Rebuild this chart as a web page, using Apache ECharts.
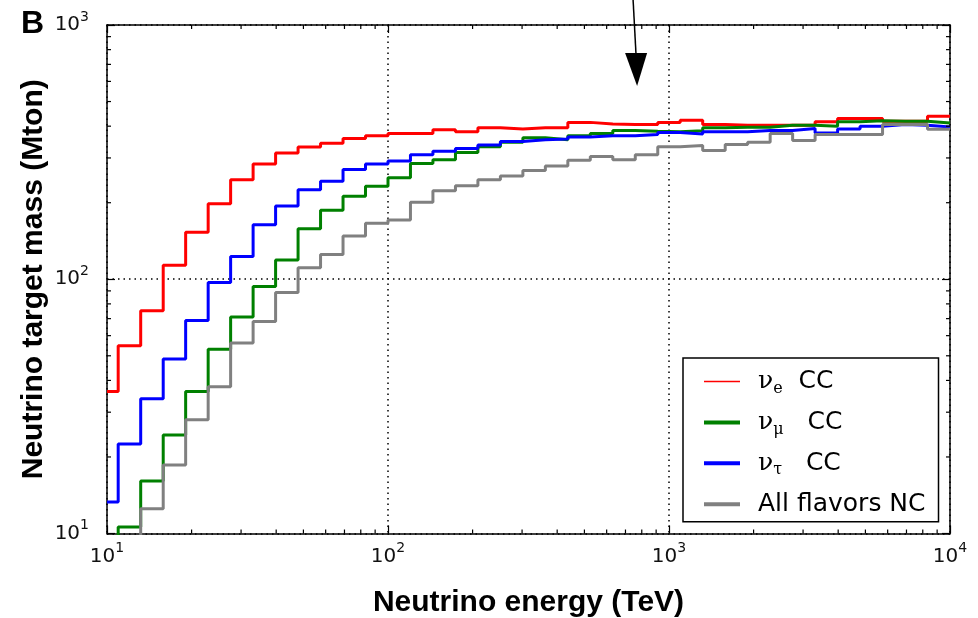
<!DOCTYPE html>
<html>
<head>
<meta charset="utf-8">
<title>Neutrino target mass</title>
<script src="https://cdn.jsdelivr.net/npm/echarts@6/dist/echarts.min.js"></script>
<style>
  html, body { margin: 0; padding: 0; background: #fff; }
  #chart { width: 978px; height: 618px; }
</style>
</head>
<body>
<div id="chart"></div>
<script>
// bin edges in TeV (log10 step 0.08, first bin cut at 10 TeV)
var binEdges = [10, 10.96, 13.18, 15.85, 19.05, 22.91, 27.54, 33.11, 39.81, 47.86,
  57.54, 69.18, 83.18, 100, 120.2, 144.5, 173.8, 208.9, 251.2, 302,
  363.1, 436.5, 524.8, 631, 758.6, 912, 1096, 1318, 1585, 1905,
  2291, 2754, 3311, 3981, 4786, 5754, 6918, 8318, 10000];

// target mass per bin (Mton)
var nueCC = [36.2, 54.7, 75.2, 113.6, 153, 198, 246, 284, 314, 331,
  343, 358, 367, 374, 374, 387, 380, 394, 390, 394,
  394, 414, 408, 406, 406, 414, 422, 406, 403, 403,
  403, 403, 416, 429, 429, 418, 418, 438];
var numuCC = [9, 10.6, 16.1, 24.4, 36.2, 53.1, 71, 93.7, 119, 158,
  187, 212, 232, 251, 285, 295, 315, 332, 346, 360,
  354, 367, 374, 385, 382, 380, 384, 394, 396, 396,
  403, 403, 400, 416, 420, 418, 418, 412];
var nutauCC = [13.3, 22.5, 33.9, 48.6, 68.8, 97.1, 123, 164, 194, 225,
  243, 270, 284, 292, 309, 319, 327, 337, 348, 354,
  356, 363, 367, 367, 371, 378, 373, 380, 380, 385,
  385, 392, 376, 390, 400, 406, 403, 397];
var allNC = [8, 9, 12.5, 18.6, 28, 37.8, 56.1, 68.2, 88.7, 111,
  125, 148, 166, 171, 201, 223, 233, 246, 255, 268,
  279, 294, 304, 295, 309, 332, 336, 321, 339, 346,
  374, 351, 371, 371, 371, 406, 406, 389];

var xTickExp = [1, 2, 3, 4];
var yTickExp = [1, 2, 3];
var minorX = [20, 30, 40, 50, 60, 70, 80, 90, 200, 300, 400, 500, 600, 700, 800, 900,
  2000, 3000, 4000, 5000, 6000, 7000, 8000, 9000];
var minorY = [20, 30, 40, 50, 60, 70, 80, 90, 200, 300, 400, 500, 600, 700, 800, 900];

// annotation arrow tip (TeV, Mton)
var arrowTip = [770, 575];

var chart = echarts.init(document.getElementById('chart'));

function stepData(vals) {
  return binEdges.map(function (e, i) {
    return [e, vals[Math.min(i, vals.length - 1)]];
  });
}

function powLabel(exps) {
  return function (v) {
    var e = Math.round(Math.log(v) / Math.LN10);
    if (exps.indexOf(e) < 0) return '';
    return '{b|10}{sup|' + e + '}';
  };
}

var tickRich = {
  b: { fontFamily: 'DejaVu Sans', fontSize: 20, color: '#111', lineHeight: 30, verticalAlign: 'middle' },
  sup: { fontFamily: 'DejaVu Sans', fontSize: 14, color: '#111', lineHeight: 14, verticalAlign: 'top' }
};

var legendLabels = {
  'nue': '{g| }{nu|ν}{sub|e}{t|  CC}',
  'numu': '{g| }{nu|ν}{sub|μ}{t|   CC}',
  'nutau': '{g| }{nu|ν}{sub|τ}{t|   CC}',
  'nc': '{g| }{t|All flavors NC}'
};

var titleFont = { fontFamily: 'Liberation Sans', fontWeight: 'bold', fontSize: 30, color: '#000' };

var option = {
  animation: false,
  backgroundColor: '#fff',
  grid: { left: 107, right: 28, top: 25, bottom: 84.5, containLabel: false, outerBoundsMode: 'none' },
  xAxis: [
    {
      type: 'log', logBase: 10, min: 10, max: 10000, position: 'bottom',
      name: 'Neutrino energy (TeV)', nameLocation: 'middle', nameGap: 54,
      nameMoveOverlap: false,
      nameTextStyle: titleFont,
      axisLine: { lineStyle: { color: '#000', width: 1.5 } },
      axisTick: { inside: true, length: 8, lineStyle: { color: '#000', width: 1.2 } },
      axisLabel: { margin: 8, formatter: powLabel(xTickExp), rich: tickRich },
      splitLine: { show: true, lineStyle: { color: '#000', type: [1.5, 4], width: 1.5 } }
    },
    {
      type: 'log', logBase: 10, min: 10, max: 10000, position: 'top',
      axisLine: { lineStyle: { color: '#000', width: 1.5 } },
      axisTick: { inside: true, length: 8, lineStyle: { color: '#000', width: 1.2 } },
      axisLabel: { show: false }, splitLine: { show: false }
    }
  ],
  yAxis: [
    {
      type: 'log', logBase: 10, min: 10, max: 1000, position: 'left',
      name: 'Neutrino target mass (Mton)', nameLocation: 'middle', nameGap: 58,
      nameMoveOverlap: false,
      nameTextStyle: titleFont,
      axisLine: { lineStyle: { color: '#000', width: 1.5 } },
      axisTick: { inside: true, length: 8, lineStyle: { color: '#000', width: 1.2 } },
      axisLabel: { margin: 18, formatter: powLabel(yTickExp), rich: tickRich },
      splitLine: { show: true, lineStyle: { color: '#000', type: [1.5, 4], width: 1.5 } }
    },
    {
      type: 'log', logBase: 10, min: 10, max: 1000, position: 'right',
      axisLine: { lineStyle: { color: '#000', width: 1.5 } },
      axisTick: { inside: true, length: 8, lineStyle: { color: '#000', width: 1.2 } },
      axisLabel: { show: false }, splitLine: { show: false }
    }
  ],
  legend: {
    left: 683, top: 358, orient: 'vertical',
    backgroundColor: '#fff', borderColor: '#000', borderWidth: 1.5, borderRadius: 0,
    padding: [11, 13, 5, 19],
    itemWidth: 36, itemHeight: 24, itemGap: 13.4, itemTextGap: 20,
    itemStyle: { color: 'rgba(0,0,0,0)', borderColor: 'rgba(0,0,0,0)', borderWidth: 0, opacity: 0 },
    formatter: function (name) { return legendLabels[name]; },
    textStyle: {
      rich: {
        g: { width: 13, fontSize: 10, lineHeight: 30 },
        nu: { fontFamily: 'DejaVu Serif', fontSize: 25, color: '#000', lineHeight: 30, verticalAlign: 'middle' },
        sub: { fontFamily: 'DejaVu Serif', fontSize: 16, color: '#000', lineHeight: 14, verticalAlign: 'bottom' },
        t: { fontFamily: 'DejaVu Sans', fontSize: 25, color: '#000', lineHeight: 30, verticalAlign: 'middle' }
      }
    },
    data: [
      { name: 'nue', lineStyle: { width: 1.5 } },
      { name: 'numu', lineStyle: { width: 4 } },
      { name: 'nutau', lineStyle: { width: 4 } },
      { name: 'nc', lineStyle: { width: 4 } }
    ]
  },
  series: [
    { name: 'nue', type: 'line', step: 'end', showSymbol: false, symbol: 'none',
      color: '#ff0000', lineStyle: { width: 3 }, data: stepData(nueCC) },
    { name: 'numu', type: 'line', step: 'end', showSymbol: false, symbol: 'none',
      color: '#008000', lineStyle: { width: 3 }, data: stepData(numuCC) },
    { name: 'nutau', type: 'line', step: 'end', showSymbol: false, symbol: 'none',
      color: '#0000ff', lineStyle: { width: 3 }, data: stepData(nutauCC) },
    { name: 'nc', type: 'line', step: 'end', showSymbol: false, symbol: 'none',
      color: '#808080', lineStyle: { width: 3 }, data: stepData(allNC) },
    {
      name: 'minor', type: 'custom', silent: true, clip: false, z: 5,
      data: minorX.map(function (v) { return [v, 10, 0]; })
        .concat(minorY.map(function (v) { return [10, v, 1]; })),
      renderItem: function (params, api) {
        var kind = api.value(2), L = 4, a, b;
        var st = { stroke: '#000', lineWidth: 1.2 };
        if (kind === 0) {
          a = api.coord([api.value(0), 10]);
          b = api.coord([api.value(0), 1000]);
          return { type: 'group', children: [
            { type: 'line', shape: { x1: a[0], y1: a[1], x2: a[0], y2: a[1] - L }, style: st },
            { type: 'line', shape: { x1: b[0], y1: b[1], x2: b[0], y2: b[1] + L }, style: st }
          ] };
        }
        a = api.coord([10, api.value(1)]);
        b = api.coord([10000, api.value(1)]);
        return { type: 'group', children: [
          { type: 'line', shape: { x1: a[0], y1: a[1], x2: a[0] + L, y2: a[1] }, style: st },
          { type: 'line', shape: { x1: b[0], y1: b[1], x2: b[0] - L, y2: b[1] }, style: st }
        ] };
      }
    }
  ]
};

chart.setOption(option);

// panel letter and annotation arrow
var tip = chart.convertToPixel({ xAxisIndex: 0, yAxisIndex: 0 }, arrowTip);
chart.setOption({
  graphic: [
    { type: 'text', left: 21, top: 8, z: 10,
      style: { text: 'B', font: 'bold 32px "Liberation Sans"', fill: '#000' } },
    { type: 'line', z: 10, shape: { x1: tip[0] - 4, y1: 0, x2: tip[0] - 1, y2: tip[1] - 30 },
      style: { stroke: '#000', lineWidth: 1.5 } },
    { type: 'polygon', z: 10,
      shape: { points: [[tip[0] - 12, tip[1] - 33], [tip[0] + 10, tip[1] - 33], [tip[0], tip[1]]] },
      style: { fill: '#000' } }
  ]
});
</script>
</body>
</html>
